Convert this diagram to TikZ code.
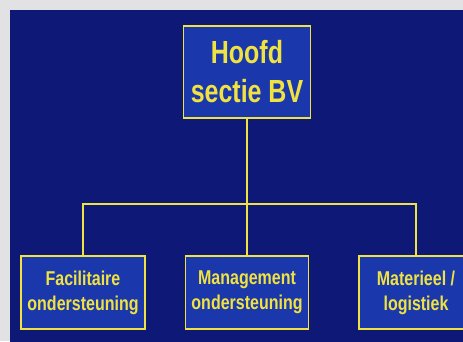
\documentclass[tikz,border=0pt]{standalone}
\usepackage{fontspec}
\newfontfamily\orgfont{Liberation Sans}[FakeStretch=0.78]
\newfontfamily\subfont{Liberation Sans}[FakeStretch=0.8]
\usepackage{tikz}
\usetikzlibrary{positioning}

\definecolor{navyback}{RGB}{14,24,118}
\definecolor{boxblue}{RGB}{26,56,172}
\definecolor{orgyellow}{RGB}{240,226,64}
\definecolor{paper}{RGB}{226,226,228}

\tikzset{
	unit/.style={draw=orgyellow, fill=boxblue, line width=1.6pt, text=orgyellow,
		align=center, inner sep=0pt},
	topunit/.style={unit, minimum width=127pt, minimum height=92pt,
		font=\orgfont\bfseries\fontsize{32}{39}\selectfont},
	subunit/.style={unit, minimum height=73pt,
		font=\subfont\bfseries\fontsize{20}{25}\selectfont},
	link/.style={orgyellow, line width=1.6pt}
}

\begin{document}
\begin{tikzpicture}[x=1pt, y=-1pt]

	%background
	\useasboundingbox (0,0) rectangle (463,341);
	\fill[paper] (0,0) rectangle (463,341);
	\fill[navyback] (10,10) rectangle (470,350);

	\begin{scope}
	\clip (0,0) rectangle (463,341);

	%boxes
	\node[topunit] (hoofd) at (247,72) {Hoofd\\sectie BV};
	\node[subunit, minimum width=124pt] (facil) at (83,292.5) {Facilitaire\\ondersteuning};
	\node[subunit, minimum width=123pt] (mgmt) at (247,292.5) {Management\\ondersteuning};
	\node[subunit, minimum width=114pt] (mater) at (416,292.5) {Materieel /\\logistiek};

	%lines
	\coordinate (bar) at (247,204);
	\draw[link] (hoofd.south) -- (mgmt.north);
	\draw[link] (facil.north) |- (bar) -| (mater.north);

	\end{scope}

\end{tikzpicture}
\end{document}
